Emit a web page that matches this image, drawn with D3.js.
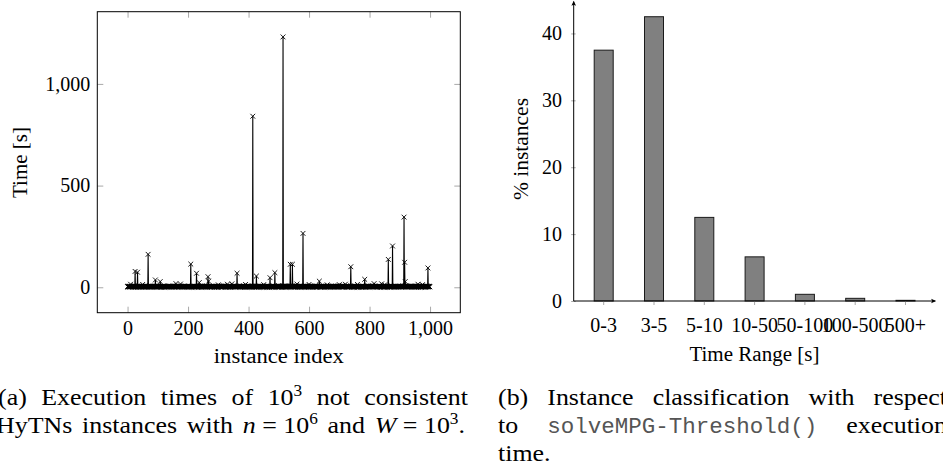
<!DOCTYPE html>
<html><head><meta charset="utf-8">
<script src="https://cdn.jsdelivr.net/npm/d3@7"></script>
<style>body{margin:0;background:#fff}svg{display:block}</style>
</head><body>
<svg id="c" width="943" height="469"></svg>
<script>
// ---------- data: panel (a) execution time per instance [s] ----------
// typical run times (one digit = seconds for one instance, instances 0..999)
const baseTimes =
  "3423245314352433241354263421345234251432534213425" + "3" +
  "4332514236243541324335241634253142534236425314352" + "4" +
  "2345314253421354263432514325431425342536341524325" + "4" +
  "3524134253624315243425342143524315243625314253424" + "3" +
  "5231425343241534253614325432415324153426352431425" + "3" +
  "4253142534326145324351423524314253426315243514253" + "4" +
  "3142534253413254263724531425343152435241354215342" + "6" +
  "2534314253421534253641325425342153426341524315243" + "6" +
  "3425134253241635243142534251435234152436253142534" + "2" +
  "4135243253421534624315243524314253162534243514253" + "8" +
  "2431524352431524362534215342531425342536413254253" + "4" +
  "5234152436251342534241352432534215342643152435243" + "1" +
  "3425163425314253423642531435242345314253421354263" + "4" +
  "4253142534325143254314253425363415243254352413425" + "3" +
  "2435142534624315243425342143524315243625314253424" + "3" +
  "3152435241523142534324153425361432543241532415342" + "6" +
  "4132542637352431425342531425343261453243514235243" + "1" +
  "2153426341425342631524351425343142534253245314253" + "4" +
  "5243152436354215342625343142534215342536413254253" + "4" +
  "3425134253241635243142534251435234152436253142534" + "2";
// moderately slow instances (10-50 s)
const midIndex = [10, 50, 92, 108, 160, 175, 237, 268, 300, 330, 345, 390, 450, 471, 560, 600, 634, 660, 700, 720, 760, 784, 815, 840, 850, 918, 960, 975];
const midTime  = [15, 14, 36, 28, 18, 16, 23, 30, 12, 15, 17, 14, 13, 47, 16, 14, 30, 12, 13, 15, 14, 39, 18, 17, 12, 28, 15, 13];
// slow instances (spikes)
const spikeIndex = [25, 33, 68, 209, 228, 266, 362, 414, 426, 487, 514, 538, 545, 580, 738, 862, 876, 914, 916, 993];
const spikeTime  = [78, 74, 162, 114, 69, 52, 69, 841, 55, 72, 1231, 113, 113, 265, 101, 137, 203, 345, 123, 95];
const idxTicks = [0, 200, 400, 600, 800, 1000];
const timeTicks = [0, 500, 1000];

// ---------- data: panel (b) instance classification ----------
const ranges = ["0-3", "3-5", "5-10", "10-50", "50-100", "100-500", "500+"];
const percent = [37.5, 42.5, 12.5, 6.6, 1.0, 0.4, 0.1];
const pctTicks = [0, 10, 20, 30, 40];

// ---------- build series ----------
const times = baseTimes.split("").map(Number);
midIndex.forEach((k, j) => { times[k] = midTime[j]; });
spikeIndex.forEach((k, j) => { times[k] = spikeTime[j]; });
const points = times.map((v, i) => ({ i, v }));

const SERIF = "'Liberation Serif','Times New Roman',serif";
const MONO = "'Liberation Mono','Courier New',monospace";
const TICK = "#a8a8a8";
const TFS = 20;
const svg = d3.select("#c");

// ================= panel (a) =================
const xL = d3.scaleLinear().domain([-100, 1100]).range([97.3, 460.3]);
const yL = d3.scaleLinear().domain([-125, 1355]).range([312.7, 11.7]);
const gA = svg.append("g");

function styleAxis(g, fs) {
  g.select(".domain").remove();
  g.attr("font-family", SERIF).attr("font-size", fs);
  g.selectAll(".tick line").attr("stroke", TICK).attr("stroke-width", 1);
  g.selectAll(".tick text").attr("fill", "#000");
}

gA.append("g").attr("transform", `translate(0,${yL.range()[0]})`)
  .call(d3.axisBottom(xL).tickValues(idxTicks).tickFormat(d3.format(",")).tickSizeInner(-6).tickSizeOuter(0).tickPadding(8.5))
  .call(g => styleAxis(g, TFS));
gA.append("g").attr("transform", `translate(0,${yL.range()[1]})`)
  .call(d3.axisTop(xL).tickValues(idxTicks).tickFormat("").tickSizeInner(-6).tickSizeOuter(0))
  .call(g => styleAxis(g, TFS));
gA.append("g").attr("transform", `translate(${xL.range()[0]},0)`)
  .call(d3.axisLeft(yL).tickValues(timeTicks).tickFormat(d3.format(",")).tickSizeInner(-6).tickSizeOuter(0).tickPadding(7))
  .call(g => styleAxis(g, TFS));
gA.append("g").attr("transform", `translate(${xL.range()[1]},0)`)
  .call(d3.axisRight(yL).tickValues(timeTicks).tickFormat("").tickSizeInner(-6).tickSizeOuter(0))
  .call(g => styleAxis(g, TFS));

// line + markers
gA.append("path").datum(points)
  .attr("d", d3.line().x(d => xL(d.i)).y(d => yL(d.v)))
  .attr("fill", "none").attr("stroke", "#000").attr("stroke-width", 1.1).attr("stroke-linejoin", "miter");
gA.append("g").selectAll("path").data(points).join("path")
  .attr("transform", d => `translate(${xL(d.i)},${yL(d.v)})`)
  .attr("d", "M-2.4,-2.4L2.4,2.4M-2.4,2.4L2.4,-2.4")
  .attr("stroke", "#000").attr("stroke-width", 0.9).attr("fill", "none");

gA.append("rect")
  .attr("x", xL.range()[0]).attr("y", yL.range()[1])
  .attr("width", xL.range()[1] - xL.range()[0]).attr("height", yL.range()[0] - yL.range()[1])
  .attr("fill", "none").attr("stroke", "#000").attr("stroke-width", 1);

gA.append("text").attr("transform", "translate(27,162.5) rotate(-90)")
  .attr("text-anchor", "middle").attr("font-family", SERIF).attr("font-size", 20.5)
  .attr("textLength", 71).attr("lengthAdjust", "spacingAndGlyphs").text("Time [s]");
gA.append("text").attr("x", (xL.range()[0] + xL.range()[1]) / 2).attr("y", 363)
  .attr("text-anchor", "middle").attr("font-family", SERIF).attr("font-size", 20.5)
  .attr("textLength", 130).attr("lengthAdjust", "spacingAndGlyphs").text("instance index");

// ================= panel (b) =================
const ox = 573.7;
const xR = d3.scaleBand().domain(ranges).range([578.55, 930.65]).paddingInner(1 - 19 / 50.3).paddingOuter((1 - 19 / 50.3) / 2);
const yR = d3.scaleLinear().domain([0, 45]).range([301, 0]);
const gB = svg.append("g");

gB.append("g").selectAll("rect").data(ranges).join("rect")
  .attr("x", d => xR(d)).attr("width", xR.bandwidth())
  .attr("y", (d, i) => yR(percent[i])).attr("height", (d, i) => yR(0) - yR(percent[i]))
  .attr("fill", "#808080").attr("stroke", "#1a1a1a").attr("stroke-width", 1);

gB.append("g").attr("transform", `translate(0,${yR(0)})`)
  .call(d3.axisBottom(xR).tickSizeInner(4).tickSizeOuter(0).tickPadding(12.5))
  .call(g => styleAxis(g, TFS));
gB.append("g").attr("transform", `translate(${ox},0)`)
  .call(d3.axisLeft(yR).tickValues(pctTicks).tickSizeInner(2.5).tickSizeOuter(0).tickPadding(9.2))
  .call(g => styleAxis(g, TFS))
  .call(g => g.selectAll(".tick line").attr("x2", -2.5).attr("x1", 2));

// axis lines with arrows
const xEnd = xR.range()[1] + 4.5, yTop = 1.7;
gB.append("line").attr("x1", ox).attr("x2", xEnd).attr("y1", yR(0)).attr("y2", yR(0)).attr("stroke", "#000").attr("stroke-width", 1);
gB.append("line").attr("x1", ox).attr("x2", ox).attr("y1", yR(0)).attr("y2", yTop).attr("stroke", "#000").attr("stroke-width", 1);
gB.append("path").attr("d", `M${xEnd + 1},${yR(0)}L${xEnd - 4},${yR(0) - 2.3}L${xEnd - 3},${yR(0)}L${xEnd - 4},${yR(0) + 2.3}Z`).attr("fill", "#000");
gB.append("path").attr("d", `M${ox},${yTop - 1}L${ox - 2.3},${yTop + 4}L${ox},${yTop + 3}L${ox + 2.3},${yTop + 4}Z`).attr("fill", "#000");

gB.append("text").attr("transform", "translate(528,149) rotate(-90)")
  .attr("text-anchor", "middle").attr("font-family", SERIF).attr("font-size", 20.5)
  .attr("textLength", 102).attr("lengthAdjust", "spacingAndGlyphs").text("% instances");
gB.append("text").attr("x", (ox + xEnd) / 2).attr("y", 361)
  .attr("text-anchor", "middle").attr("font-family", SERIF).attr("font-size", 20.5)
  .attr("textLength", 130).attr("lengthAdjust", "spacingAndGlyphs").text("Time Range [s]");

// ================= captions (justified lines) =================
const CFS = 24, KX = 1.08;
function layoutLine(words, x0, x1, y, justify) {
  const items = words.map(segs => {
    const g = svg.append("g");
    const mono = segs.some(s => s.mono);
    const t = g.append("text").attr("font-family", SERIF).attr("font-size", CFS).attr("fill", "#000")
      .attr("xml:space", "preserve").style("white-space", "pre");
    let prevSup = false;
    segs.forEach(s => {
      const ts = t.append("tspan").text(s.t);
      if (s.it) ts.attr("font-style", "italic");
      if (s.mono) ts.attr("font-family", MONO).attr("font-size", 22.5).attr("fill", "#555");
      if (s.sup) { ts.attr("font-size", 16).attr("dy", -9); prevSup = true; }
      else if (prevSup) { ts.attr("dy", 9); prevSup = false; }
    });
    const k = mono ? 1 : KX;
    const w = t.node().getComputedTextLength() * k;
    return { g, w, k };
  });
  const total = d3.sum(items, d => d.w);
  const gap = justify && items.length > 1 ? (x1 - x0 - total) / (items.length - 1) : CFS * 0.25;
  let x = x0;
  items.forEach(it => {
    it.g.attr("transform", `translate(${x},${y}) scale(${it.k},1)`);
    x += it.w + gap;
  });
}
const W = s => ({ t: s });
layoutLine([[W("(a)")], [W("Execution")], [W("times")], [W("of")], [W("10"), { t: "3", sup: true }], [W("not")], [W("consistent")]], -2, 468, 405, true);
layoutLine([[W("HyTNs")], [W("instances")], [W("with")],
  [{ t: "n", it: true }, W(" = 10"), { t: "6", sup: true }], [W("and")],
  [{ t: "W", it: true }, W(" = 10"), { t: "3", sup: true }, W(".")]], -4, 465, 433, true);
layoutLine([[W("(b)")], [W("Instance")], [W("classification")], [W("with")], [W("respect")]], 498, 947, 405, true);
layoutLine([[W("to")], [{ t: "solveMPG-Threshold()", mono: true }], [W("execution")]], 498, 947, 433, true);
layoutLine([[W("time.")]], 498, 947, 461, false);
</script>
</body></html>
